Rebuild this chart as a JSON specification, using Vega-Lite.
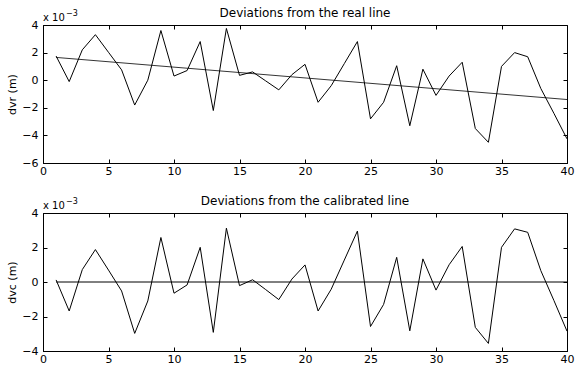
{
  "$schema": "https://vega.github.io/schema/vega-lite/v6.json",
  "padding": {"left": 6, "top": 6, "right": 5, "bottom": 2},
  "background": "white",
  "spacing": 50,
  "bounds": "flush",
  "datasets": {
    "dev": [
      {"x": 1, "dvr": 1.75, "dvc": 0.12},
      {"x": 2, "dvr": -0.1, "dvc": -1.68},
      {"x": 3, "dvr": 2.2, "dvc": 0.72},
      {"x": 4, "dvr": 3.3, "dvc": 1.88},
      {"x": 5, "dvr": 2.02, "dvc": 0.69},
      {"x": 6, "dvr": 0.75, "dvc": -0.52},
      {"x": 7, "dvr": -1.8, "dvc": -2.98},
      {"x": 8, "dvr": 0.0, "dvc": -1.1},
      {"x": 9, "dvr": 3.6, "dvc": 2.58},
      {"x": 10, "dvr": 0.3, "dvc": -0.65},
      {"x": 11, "dvr": 0.7, "dvc": -0.17},
      {"x": 12, "dvr": 2.8, "dvc": 2.01},
      {"x": 13, "dvr": -2.2, "dvc": -2.92},
      {"x": 14, "dvr": 3.75, "dvc": 3.12},
      {"x": 15, "dvr": 0.35, "dvc": -0.21},
      {"x": 16, "dvr": 0.6, "dvc": 0.13},
      {"x": 17, "dvr": -0.05, "dvc": -0.44},
      {"x": 18, "dvr": -0.7, "dvc": -1.02},
      {"x": 19, "dvr": 0.4, "dvc": 0.17},
      {"x": 20, "dvr": 1.15, "dvc": 0.99},
      {"x": 21, "dvr": -1.6, "dvc": -1.68},
      {"x": 22, "dvr": -0.4, "dvc": -0.42},
      {"x": 23, "dvr": 1.2, "dvc": 1.27},
      {"x": 24, "dvr": 2.8, "dvc": 2.95},
      {"x": 25, "dvr": -2.8, "dvc": -2.58},
      {"x": 26, "dvr": -1.6, "dvc": -1.3},
      {"x": 27, "dvr": 1.05, "dvc": 1.43},
      {"x": 28, "dvr": -3.3, "dvc": -2.83},
      {"x": 29, "dvr": 0.8, "dvc": 1.34},
      {"x": 30, "dvr": -1.1, "dvc": -0.47},
      {"x": 31, "dvr": 0.3, "dvc": 1.0},
      {"x": 32, "dvr": 1.3, "dvc": 2.06},
      {"x": 33, "dvr": -3.5, "dvc": -2.63},
      {"x": 34, "dvr": -4.5, "dvc": -3.56},
      {"x": 35, "dvr": 1.0, "dvc": 2.01},
      {"x": 36, "dvr": 2.0, "dvc": 3.08},
      {"x": 37, "dvr": 1.7, "dvc": 2.88},
      {"x": 38, "dvr": -0.6, "dvc": 0.66},
      {"x": 39, "dvr": -2.4, "dvc": -1.07},
      {"x": 40, "dvr": -4.25, "dvc": -2.85}
    ],
    "fit": [
      {"x": 1, "fit": 1.65, "zero": 0},
      {"x": 40, "fit": -1.4, "zero": 0}
    ],
    "note": [
      {"x": 0, "y": 4, "base": "x 10", "exp": "\u22123"}
    ]
  },
  "config": {
    "font": "DejaVu Sans",
    "view": {"stroke": "black", "strokeWidth": 1},
    "title": {"fontSize": 12, "fontWeight": "normal", "color": "black", "anchor": "middle", "offset": -10, "font": "DejaVu Sans"},
    "axis": {
      "grid": false,
      "domainColor": "black",
      "domainWidth": 1,
      "tickColor": "black",
      "tickSize": -4,
      "labelFontSize": 11,
      "labelColor": "black",
      "titleFontSize": 11,
      "titleFontWeight": "normal",
      "titleColor": "black",
      "labelFont": "DejaVu Sans",
      "titleFont": "DejaVu Sans"
    },
    "axisX": {"labelPadding": 6},
    "axisY": {"labelPadding": 9, "titlePadding": 4}
  },
  "vconcat": [
    {
      "title": "Deviations from the real line",
      "width": 524,
      "height": 138,
      "resolve": {"axis": {"x": "independent", "y": "independent"}},
      "layer": [
        {
          "data": {"name": "dev"},
          "mark": {"type": "line", "color": "black", "strokeWidth": 1},
          "encoding": {
            "x": {"field": "x", "type": "quantitative", "scale": {"domain": [0, 40], "nice": false}, "axis": {"values": [0, 5, 10, 15, 20, 25, 30, 35, 40], "title": null, "labelFlush": false}},
            "y": {"field": "dvr", "type": "quantitative", "scale": {"domain": [-6, 4], "nice": false}, "axis": {"values": [-6, -4, -2, 0, 2, 4], "title": "dvr (m)"}}
          }
        },
        {
          "data": {"name": "fit"},
          "mark": {"type": "line", "color": "black", "strokeWidth": 0.8},
          "encoding": {
            "x": {"field": "x", "type": "quantitative", "axis": {"orient": "top", "values": [0, 5, 10, 15, 20, 25, 30, 35, 40], "labels": false, "title": null, "domain": false}},
            "y": {"field": "fit", "type": "quantitative", "axis": {"orient": "right", "values": [-6, -4, -2, 0, 2, 4], "labels": false, "title": null, "domain": false}}
          }
        },
        {
          "data": {"name": "note"},
          "mark": {"type": "text", "align": "left", "baseline": "alphabetic", "dy": -4, "fontSize": 10, "color": "black"},
          "encoding": {
            "x": {"field": "x", "type": "quantitative", "axis": null},
            "y": {"field": "y", "type": "quantitative", "axis": null},
            "text": {"field": "base"}
          }
        },
        {
          "data": {"name": "note"},
          "mark": {"type": "text", "align": "left", "baseline": "alphabetic", "dx": 23, "dy": -9, "fontSize": 8, "color": "black"},
          "encoding": {
            "x": {"field": "x", "type": "quantitative", "axis": null},
            "y": {"field": "y", "type": "quantitative", "axis": null},
            "text": {"field": "exp"}
          }
        }
      ]
    },
    {
      "title": "Deviations from the calibrated line",
      "width": 524,
      "height": 138,
      "resolve": {"axis": {"x": "independent", "y": "independent"}},
      "layer": [
        {
          "data": {"name": "dev"},
          "mark": {"type": "line", "color": "black", "strokeWidth": 1},
          "encoding": {
            "x": {"field": "x", "type": "quantitative", "scale": {"domain": [0, 40], "nice": false}, "axis": {"values": [0, 5, 10, 15, 20, 25, 30, 35, 40], "title": null, "labelFlush": false}},
            "y": {"field": "dvc", "type": "quantitative", "scale": {"domain": [-4, 4], "nice": false}, "axis": {"values": [-4, -2, 0, 2, 4], "title": "dvc (m)"}}
          }
        },
        {
          "data": {"name": "fit"},
          "mark": {"type": "line", "color": "black", "strokeWidth": 1},
          "encoding": {
            "x": {"field": "x", "type": "quantitative", "axis": {"orient": "top", "values": [0, 5, 10, 15, 20, 25, 30, 35, 40], "labels": false, "title": null, "domain": false}},
            "y": {"field": "zero", "type": "quantitative", "axis": {"orient": "right", "values": [-4, -2, 0, 2, 4], "labels": false, "title": null, "domain": false}}
          }
        },
        {
          "data": {"name": "note"},
          "mark": {"type": "text", "align": "left", "baseline": "alphabetic", "dy": -4, "fontSize": 10, "color": "black"},
          "encoding": {
            "x": {"field": "x", "type": "quantitative", "axis": null},
            "y": {"datum": 4, "type": "quantitative", "axis": null},
            "text": {"field": "base"}
          }
        },
        {
          "data": {"name": "note"},
          "mark": {"type": "text", "align": "left", "baseline": "alphabetic", "dx": 23, "dy": -9, "fontSize": 8, "color": "black"},
          "encoding": {
            "x": {"field": "x", "type": "quantitative", "axis": null},
            "y": {"datum": 4, "type": "quantitative", "axis": null},
            "text": {"field": "exp"}
          }
        }
      ]
    }
  ]
}
